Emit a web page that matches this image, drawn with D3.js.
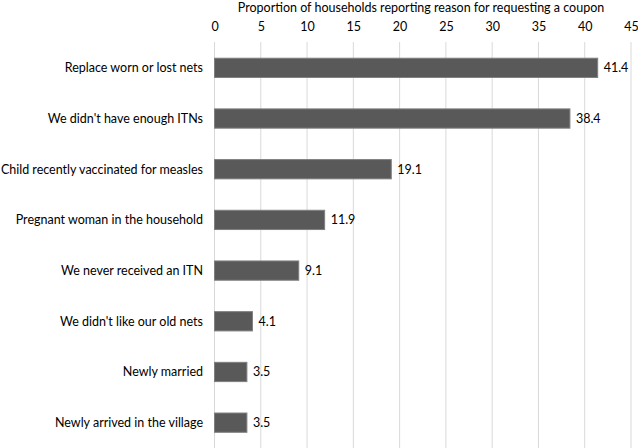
<!DOCTYPE html>
<html>
<head>
  <meta charset="UTF-8" />
  <script src="https://cdn.jsdelivr.net/npm/d3@7"></script>
  <style>
    body { margin: 0; background: #fff; }
    svg { font-family: Lato, 'Open Sans', sans-serif; }
  </style>
</head>
<body>
  <svg></svg>
  <script>
    const reasons = [
      'Replace worn or lost nets',
      "We didn't have enough ITNs",
      'Child recently vaccinated for measles',
      'Pregnant woman in the household',
      'We never received an ITN',
      "We didn't like our old nets",
      'Newly married',
      'Newly arrived in the village'
    ];
    const percents = [41.4, 38.4, 19.1, 11.9, 9.1, 4.1, 3.5, 3.5];
    const ticks = [0, 5, 10, 15, 20, 25, 30, 35, 40, 45];

    let width = 638,
      height = 448;

    let svg = d3.select('svg').attr('width', width).attr('height', height);

    let x = d3.scaleLinear().domain([0, 45]).range([214.5, 631]);
    let y = d3.scaleBand().domain(reasons).range([42.5, 448]).paddingInner(0.62).paddingOuter(0.31);

    // title
    svg.append('text')
      .attr('x', 421)
      .attr('y', 12)
      .attr('text-anchor', 'middle')
      .attr('font-size', 12.5)
      .attr('fill', '#000')
      .text('Proportion of households  reporting reason for requesting a coupon');

    // grid lines
    svg.append('g')
      .selectAll('line')
      .data(ticks)
      .enter()
      .append('line')
      .attr('x1', d => x(d))
      .attr('x2', d => x(d))
      .attr('y1', 42)
      .attr('y2', height)
      .attr('stroke', '#d9d9d9')
      .attr('stroke-width', 1);

    // top axis
    let axis = svg.append('g')
      .attr('transform', 'translate(0,40)')
      .call(d3.axisTop(x).tickValues(ticks).tickSize(0).tickPadding(9));
    axis.select('.domain').remove();
    axis.selectAll('text').attr('font-size', 12.5).attr('fill', '#000').attr('font-family', 'Lato, sans-serif');

    // category labels
    svg.append('g')
      .selectAll('text')
      .data(reasons)
      .enter()
      .append('text')
      .attr('x', 203)
      .attr('y', d => y(d) + y.bandwidth() / 2)
      .attr('dy', '0.35em')
      .attr('text-anchor', 'end')
      .attr('font-size', 12.5)
      .attr('fill', '#000')
      .text(d => d);

    // bars
    svg.append('g')
      .selectAll('rect')
      .data(percents)
      .enter()
      .append('rect')
      .attr('x', x(0))
      .attr('y', (d, i) => y(reasons[i]))
      .attr('width', d => x(d) - x(0))
      .attr('height', y.bandwidth())
      .attr('fill', '#595959')
      .attr('stroke', '#7f7f7f')
      .attr('stroke-width', 1);

    // value labels
    svg.append('g')
      .selectAll('text')
      .data(percents)
      .enter()
      .append('text')
      .attr('x', d => x(d) + 6)
      .attr('y', (d, i) => y(reasons[i]) + y.bandwidth() / 2)
      .attr('dy', '0.35em')
      .attr('font-size', 12.5)
      .attr('fill', '#000')
      .text(d => d.toFixed(1));
  </script>
</body>
</html>
